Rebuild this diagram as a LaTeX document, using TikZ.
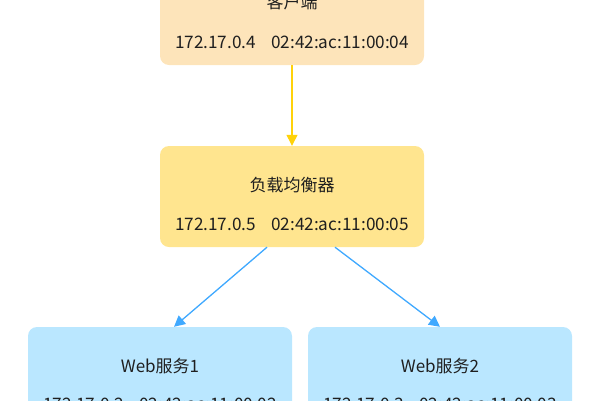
\documentclass[tikz,border=0pt]{standalone}
\usepackage{fontspec}
\setmainfont{Noto Sans CJK SC}
\usetikzlibrary{arrows.meta}
\definecolor{peach}{HTML}{FDE4BA}
\definecolor{lbyel}{HTML}{FFE58F}
\definecolor{lblue}{HTML}{BAE7FF}
\definecolor{ayel}{HTML}{FFD20A}
\definecolor{ablue}{HTML}{40A9FF}
\definecolor{txt}{HTML}{1F1F1F}
\tikzset{
  box/.style={draw=none, rounded corners=9pt, minimum width=264pt, minimum height=101pt, inner sep=0pt},
  title/.style={font=\fontsize{17pt}{20pt}\selectfont, text=txt, inner sep=0pt},
  addr/.style={font=\fontsize{17.2pt}{20pt}\selectfont, text=txt, inner sep=0pt},
  conn/.style={line width=1.3pt, -{Triangle[width=11pt,length=11pt]}},
}
\begin{document}
\begin{tikzpicture}[x=1pt,y=-1pt]
\useasboundingbox (0,0) rectangle (600,400);
\node[box, fill=peach] (c) at (292,14.5) {};
\node[title] (ct) at (292,2) {客户端};
\node[addr] (ca) at (292,42) {172.17.0.4\hspace{15pt}02:42:ac:11:00:04};

\node[box, fill=lbyel] (lb) at (292,196.5) {};
\node[title] (lbt) at (292,185) {负载均衡器};
\node[addr] (lba) at (292,224) {172.17.0.5\hspace{15pt}02:42:ac:11:00:05};

\node[box, fill=lblue] (w1) at (160,377.5) {};
\node[title] (w1t) at (160,366) {Web服务1};
\node[addr] (w1a) at (160,404.5) {172.17.0.2\hspace{15pt}02:42:ac:11:00:02};

\node[box, fill=lblue] (w2) at (440,377.5) {};
\node[title] (w2t) at (440,366) {Web服务2};
\node[addr] (w2a) at (440,404.5) {172.17.0.3\hspace{15pt}02:42:ac:11:00:03};

\draw[conn, draw=ayel, fill=ayel] (c.south) -- (lb.north);
\draw[conn, draw=ablue, fill=ablue] ([xshift=-25pt]lb.south) -- ([xshift=14pt]w1.north);
\draw[conn, draw=ablue, fill=ablue] ([xshift=43pt]lb.south) -- ([xshift=0pt]w2.north);
\end{tikzpicture}
\end{document}
